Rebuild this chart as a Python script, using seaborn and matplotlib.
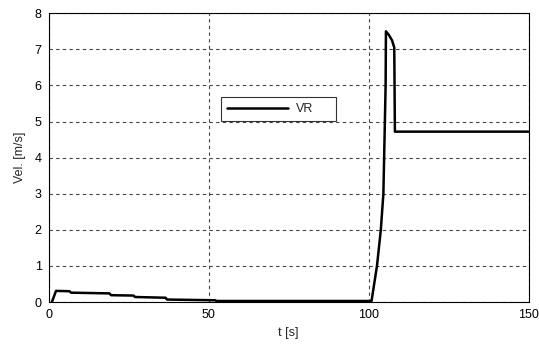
import matplotlib
matplotlib.use("Agg")
import matplotlib.pyplot as plt
import seaborn as sns
import pandas as pd

t = [1.0, 2.3, 6.5, 7.0, 19.0, 19.5, 26.5, 27.0, 36.5, 37.0, 52.0, 52.5, 100.9,
     102.6, 103.8, 104.6, 105.0, 105.3, 105.4, 106.3, 107.3, 108.0, 108.2, 150]
v = [0.0, 0.31, 0.3, 0.26, 0.24, 0.19, 0.18, 0.14, 0.12, 0.07, 0.05, 0.03, 0.03,
     1.0, 2.0, 3.0, 4.7, 6.0, 7.5, 7.4, 7.25, 7.05, 4.72, 4.72]
series = "VR"

df = pd.DataFrame({"t": t, "v": v, "s": series})

sns.set_theme(style="white")
plt.rcParams["font.family"] = ["Liberation Sans", "DejaVu Sans"]

fig = plt.figure(figsize=(5.39, 3.48), dpi=100)
ax = fig.add_axes([0.0903, 0.132, 0.8905, 0.830])
sns.lineplot(data=df, x="t", y="v", hue="s", palette=["black"], linewidth=1.8, ax=ax, sort=False)
ax.set_xlim(0, 150)
ax.set_ylim(0, 8)
ax.set_xticks([0, 50, 100, 150])
ax.set_yticks(range(0, 9))
ax.grid(True, color="#444444", linestyle=(0, (3, 3)), linewidth=0.8)
for s in ax.spines.values():
    s.set_color("black")
    s.set_linewidth(0.8)
ax.tick_params(labelsize=9, colors="black", length=0, pad=5)
ax.set_xlabel("t [s]", fontsize=9, labelpad=4)
ax.set_ylabel("Vel. [m/s]", fontsize=9, labelpad=6)
leg = ax.legend(loc="upper left", bbox_to_anchor=(0.358, 0.50, 0.24, 0.21), mode="expand",
                borderaxespad=0, fontsize=9, frameon=True,
                fancybox=False, edgecolor="black", handlelength=4.9, handletextpad=0.6, borderpad=0.5)
leg.get_frame().set_linewidth(0.8)
fig.savefig("out.png", dpi=100)
